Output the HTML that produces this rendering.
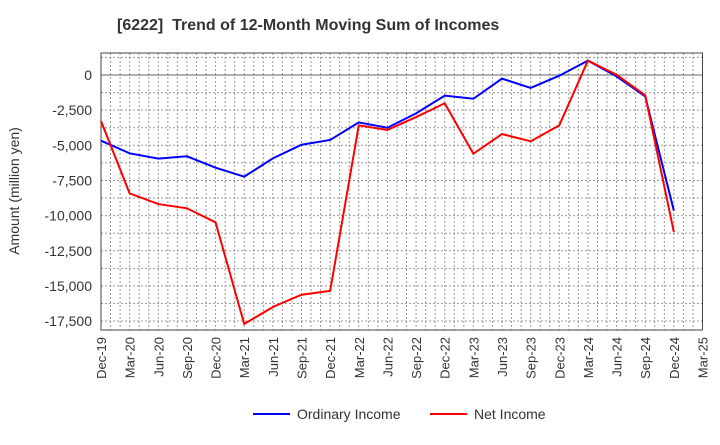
<!DOCTYPE html>
<html><head><meta charset="utf-8"><style>
body{margin:0;background:#fff;font-family:"Liberation Sans",sans-serif}
</style></head><body>
<svg id="c" width="720" height="440" xmlns="http://www.w3.org/2000/svg"></svg>
<script>
const xLabels=["Dec-19","Mar-20","Jun-20","Sep-20","Dec-20","Mar-21","Jun-21","Sep-21","Dec-21","Mar-22","Jun-22","Sep-22","Dec-22","Mar-23","Jun-23","Sep-23","Dec-23","Mar-24","Jun-24","Sep-24","Dec-24","Mar-25"];
const yTicks=[0,-2500,-5000,-7500,-10000,-12500,-15000,-17500];
const ordinary=[-4670,-5570,-5950,-5780,-6590,-7230,-5930,-4960,-4620,-3370,-3750,-2730,-1470,-1690,-260,-920,-50,1020,-100,-1520,-9650];
const net=[-3270,-8420,-9180,-9480,-10480,-17710,-16500,-15630,-15350,-3580,-3910,-2990,-2010,-5600,-4200,-4720,-3580,1020,20,-1450,-11170];
const L=101,R=702.5,T=53,B=330;
const NS="http://www.w3.org/2000/svg";
const svg=document.getElementById('c');
function x(i){return L+i*(R-L)/21;}
function xm(m){return L+m*(R-L)/63;}
function y(v){return 75-v/2500*35.15;}
function mk(t,a,p){const e=document.createElementNS(NS,t);for(const k in a)e.setAttribute(k,a[k]);(p||svg).appendChild(e);return e;}
const title=mk('text',{x:117,y:30,'font-size':16,'font-weight':'bold',fill:'#333'});


title.textContent='[6222]\u00a0\u00a0Trend of 12-Month Moving Sum of Incomes';
const grid=mk('g',{});


for(let m=1;m<63;m++){mk('line',{x1:xm(m),x2:xm(m),y1:T,y2:B,stroke:'#999','stroke-width':1,'stroke-dasharray':'2,2'},grid);}
for(let v=2500;v>=-20000;v-=1250){const yy=y(v);if(yy<=T||yy>=B)continue;mk('line',{x1:L,x2:R,y1:yy,y2:yy,stroke:v===0?'#666':'#999','stroke-width':1,'stroke-dasharray':v===0?'':'2,2'},grid);}
const frame=mk('rect',{x:L,y:T,width:R-L,height:B-T,fill:'none',stroke:'#444','stroke-width':1});


yTicks.forEach(v=>{const t=mk('text',{x:92,y:y(v)+5,'text-anchor':'end','font-size':14,fill:'#333'});


t.textContent=v.toLocaleString('en-US');});
xLabels.forEach((s,i)=>{const t=mk('text',{transform:`translate(${x(i)+5},337) rotate(-90)`,'text-anchor':'end','font-size':13,fill:'#333'});


t.textContent=s;});
const yt=mk('text',{transform:'translate(19,191) rotate(-90)','text-anchor':'middle','font-size':14,fill:'#333'});


yt.textContent='Amount (million yen)';
function line(d,c,n){const p=mk('polyline',{points:d.map((v,i)=>x(i)+','+y(v)).join(' '),fill:'none',stroke:c,'stroke-width':2});

}
line(ordinary,'#0000ff','ordinary-income-line');
line(net,'#ff0000','net-income-line');
function leg(x0,c,s,n){const g=mk('g',{});


mk('line',{x1:x0,x2:x0+37,y1:414,y2:414,stroke:c,'stroke-width':2},g);
const t=mk('text',{x:x0+44,y:419,'font-size':14,fill:'#333'},g);t.textContent=s;}
leg(253,'#0000ff','Ordinary Income','legend-ordinary-income');
leg(430,'#ff0000','Net Income','legend-net-income');
</script>
</body></html>
